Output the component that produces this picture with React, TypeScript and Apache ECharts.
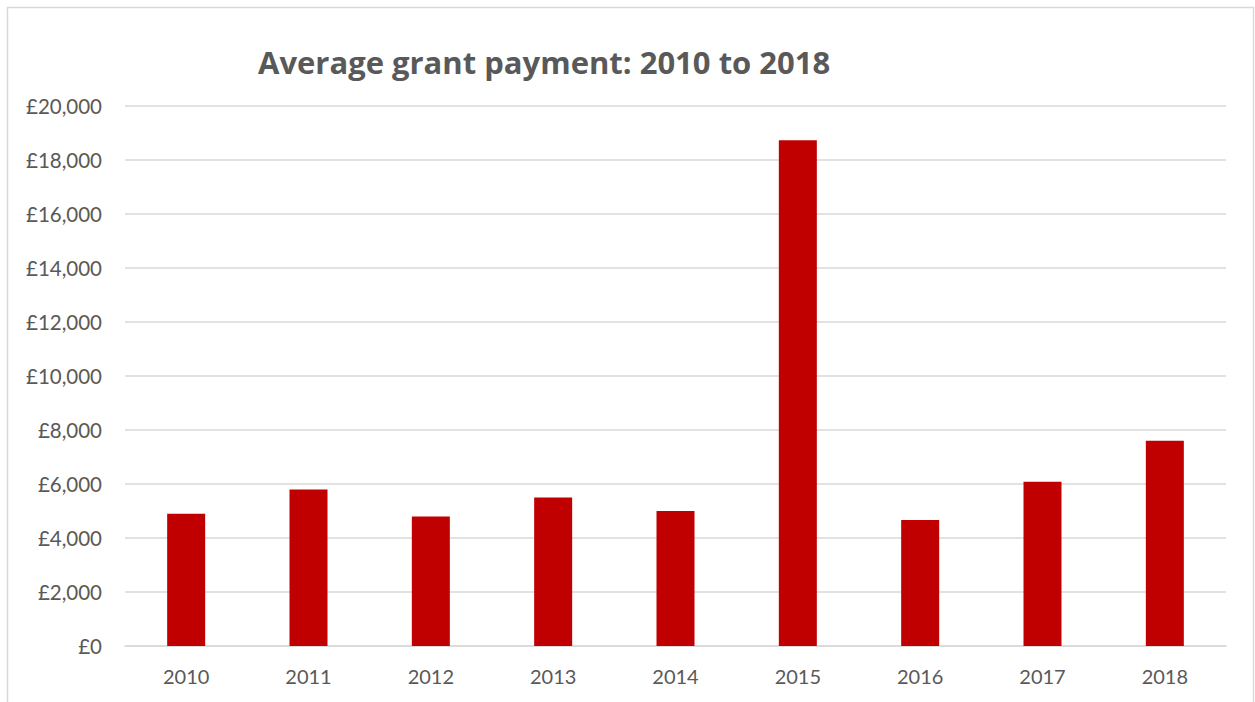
import React, { useEffect, useRef } from "react";
import * as echarts from "echarts";

const years = ["2010", "2011", "2012", "2013", "2014", "2015", "2016", "2017", "2018"];
const averageGrant = [4900, 5800, 4800, 5500, 5000, 18730, 4670, 6085, 7600];
const titleText = "Average grant payment: 2010 to 2018";

export default function App() {
  const ref = useRef<HTMLDivElement>(null);
  useEffect(() => {
    if (!ref.current) return;
    const chart = echarts.init(ref.current, undefined, { renderer: "svg" });
    const font = "Lato, Open Sans, sans-serif";
    chart.setOption({
      animation: false,
      backgroundColor: "#ffffff",
      title: {
        text: titleText,
        left: 253,
        top: 41,
        textStyle: { fontFamily: "Open Sans, sans-serif", fontSize: 31, fontWeight: "bold", color: "#595959" },
      },
      graphic: [
        {
          type: "rect",
          shape: { x: 7.5, y: 7.5, width: 1246, height: 720 },
          style: { fill: "none", stroke: "#d9d9d9", lineWidth: 1.5 },
          silent: true,
        },
      ],
      grid: { left: 125, right: 29, top: 106, bottom: 56 },
      xAxis: {
        type: "category",
        data: years,
        axisLine: { show: true, lineStyle: { color: "#d9d9d9", width: 1.5 } },
        axisTick: { show: false },
        axisLabel: { color: "#595959", fontSize: 20, fontFamily: font, margin: 20 },
      },
      yAxis: {
        type: "value",
        min: 0,
        max: 20000,
        interval: 2000,
        axisLine: { show: false },
        axisTick: { show: false },
        splitLine: { lineStyle: { color: "#d9d9d9", width: 1.5 } },
        axisLabel: {
          color: "#595959",
          fontSize: 20.5,
          fontFamily: font,
          margin: 23,
          formatter: (v: number) => "£" + v.toLocaleString("en-GB"),
        },
      },
      series: [
        {
          type: "bar",
          data: averageGrant,
          barWidth: 38,
          itemStyle: { color: "#c00000" },
        },
      ],
    });
    return () => chart.dispose();
  }, []);
  return (
    <div
      ref={ref}
      style={{ position: "absolute", left: 0, top: 0, width: 1255, height: 702 }}
    />
  );
}
